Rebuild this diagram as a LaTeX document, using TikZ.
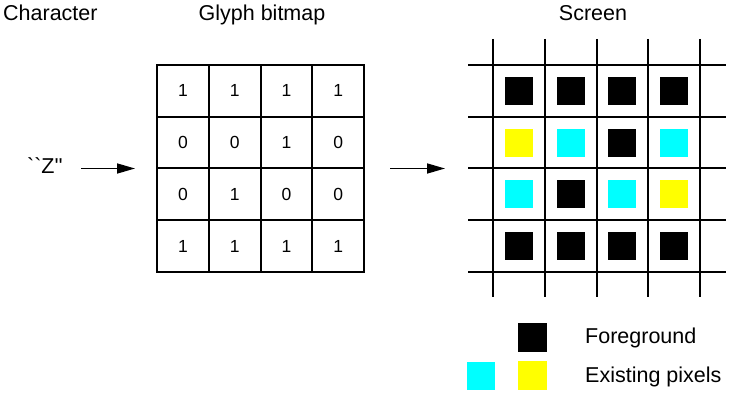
\documentclass[tikz,border=0pt]{standalone}
\usepackage{fontspec}
\setmainfont{Liberation Sans}[Ligatures=TeXOff]
\usetikzlibrary{arrows.meta,positioning,calc}
\definecolor{cfrente}{HTML}{000000}
\definecolor{ccian}{HTML}{00FFFF}
\definecolor{camarillo}{HTML}{FFFF00}
\tikzset{
  tit/.style={font=\fontsize{21.5}{25}\selectfont,inner sep=0pt,anchor=base},
  celda/.style={draw,line width=2pt,minimum size=51.75pt,inner sep=0pt,
                font=\fontsize{17.5}{20}\selectfont},
  pixel/.style={minimum size=28pt,inner sep=0pt},
  pixk/.style={pixel,fill=cfrente},
  pixc/.style={pixel,fill=ccian},
  pixy/.style={pixel,fill=camarillo},
  rejilla/.style={line width=2pt},
  flecha/.style={-{Triangle[length=18pt,width=10pt]},line width=1.6pt},
}
\begin{document}
\begin{tikzpicture}[x=1pt,y=-1pt]
\useasboundingbox (0,0) rectangle (734,406);

% titulos
\node[tit,anchor=base west] (tchar) at (3,21) {Character};
\node[tit] (tglyph) at (262,21) {Glyph bitmap};
\node[tit] (tscreen) at (593,21) {Screen};

% caracter
\node[tit] (zchar) at (45,174) {``Z''};

% mapa de bits
\foreach \f/\vals in {1/{1,1,1,1},2/{0,0,1,0},3/{0,1,0,0},4/{1,1,1,1}}{
  \foreach \v [count=\c] in \vals{
    \node[celda] (b-\f-\c) at ({157+51.75*(\c-0.5)},{65+51.75*(\f-0.5)}) {\v};
  }
}
\coordinate (bmapw) at (157,168.5);
\coordinate (bmape) at (364,168.5);

% pantalla
\foreach \k in {0,...,4}{
  \draw[rejilla] ({493+51.75*\k},39) -- ({493+51.75*\k},297);
  \draw[rejilla] (468,{65+51.75*\k}) -- (726,{65+51.75*\k});
}
\foreach \f/\vals in {1/{k,k,k,k},2/{y,c,k,c},3/{c,k,c,y},4/{k,k,k,k}}{
  \foreach \v [count=\c] in \vals{
    \node[pix\v] (p-\f-\c) at ({493+51.75*(\c-0.5)},{65+51.75*(\f-0.5)}) {};
  }
}
\coordinate (scrw) at (468,168.5);

% flechas
\draw[flecha] ([xshift=18pt]zchar.east |- bmapw) -- ([xshift=-22pt]bmapw);
\draw[flecha] ([xshift=26pt]bmape) -- ([xshift=-23pt]scrw);

% leyenda
\node[pixk,minimum size=29pt] (lk) at (532.5,337) {};
\node[pixc,minimum size=28pt] (lc) at (480.5,375.5) {};
\node[pixy,minimum size=29pt] (ly) at (532.5,375.5) {};
\node[tit,anchor=base west] (lfore) at (585,343) {Foreground};
\node[tit,anchor=base west] (lexist) at (585,382) {Existing pixels};

\end{tikzpicture}
\end{document}
